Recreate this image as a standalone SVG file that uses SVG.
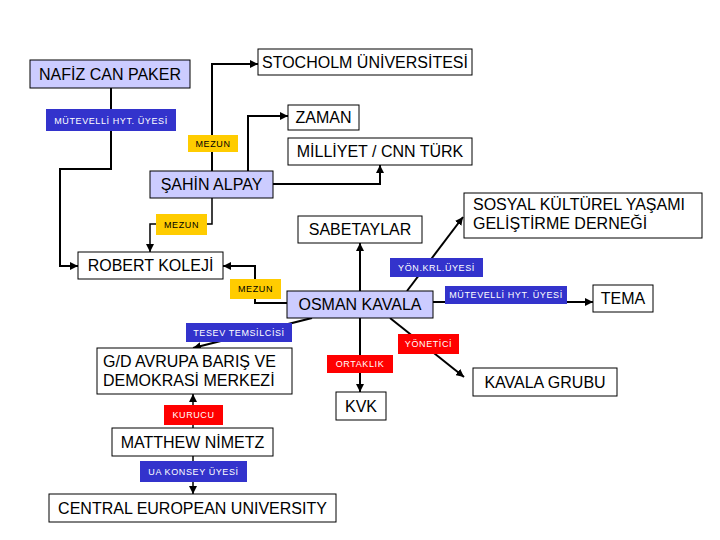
<svg xmlns="http://www.w3.org/2000/svg" width="720" height="540" viewBox="0 0 720 540">
<style>
.box{fill:#fff;stroke:#000;stroke-width:1}
.main{fill:#CCCCFF;stroke:#000;stroke-width:1}
.t{font-family:"Liberation Sans",Arial,sans-serif;font-size:16px;fill:#000}
.tc{text-anchor:middle}
.lb{font-family:"Liberation Sans",Arial,sans-serif;font-size:9px;letter-spacing:0.6px;text-anchor:middle;fill:#fff}
.lbk{fill:#000}
.blue{fill:#3333CC}
.yel{fill:#FFCC00}
.red{fill:#FF0000}
.e{fill:none;stroke:#000;stroke-width:2}
.e1{fill:none;stroke:#000;stroke-width:1.5}
</style>
<defs>
<marker id="ah" viewBox="0 0 10 10" refX="10" refY="5" markerWidth="8" markerHeight="8" markerUnits="userSpaceOnUse" orient="auto">
<path d="M0,0 L10,5 L0,10 z" fill="#000"/>
</marker>
</defs>
<rect width="720" height="540" fill="#fff"/>
<g id="connectors">
<polyline class="e" points="111,88 111,169 60,169 60,266 78,266" marker-end="url(#ah)"/>
<polyline class="e" points="212,171 212,64 258,64" marker-end="url(#ah)"/>
<polyline class="e" points="248,171 248,116 288,116" marker-end="url(#ah)"/>
<polyline class="e" points="273,184 380,184 380,165" marker-end="url(#ah)"/>
<polyline class="e1" points="212,198 212,224 150,224 150,252" marker-end="url(#ah)"/>
<polyline class="e" points="287,303 255,303 255,266 223,266" marker-end="url(#ah)"/>
<line class="e" x1="360" y1="291" x2="360" y2="243" marker-end="url(#ah)"/>
<line class="e" x1="407" y1="291" x2="463" y2="217" marker-end="url(#ah)"/>
<line class="e" x1="433" y1="302" x2="593" y2="302" marker-end="url(#ah)"/>
<line class="e" x1="390" y1="318" x2="464" y2="377" marker-end="url(#ah)"/>
<line class="e" x1="360" y1="318" x2="360" y2="392" marker-end="url(#ah)"/>
<line class="e" x1="312" y1="318" x2="193" y2="348" marker-end="url(#ah)"/>
<line class="e1" x1="193" y1="428" x2="193" y2="394" marker-end="url(#ah)"/>
<line class="e1" x1="193" y1="456" x2="193" y2="494" marker-end="url(#ah)"/>
</g>
<g id="labels">
<g id="lbl-mutevelli1"><rect class="blue" x="46" y="109" width="130" height="22"/><text class="lb" x="111" y="123.5">MÜTEVELLİ HYT. ÜYESİ</text></g>
<g id="lbl-mezun1"><rect class="yel" x="188" y="135" width="50" height="17"/><text class="lb lbk" x="213" y="147">MEZUN</text></g>
<g id="lbl-mezun2"><rect class="yel" x="156" y="214" width="51" height="21"/><text class="lb lbk" x="181.5" y="227.5">MEZUN</text></g>
<g id="lbl-yonkrl"><rect class="blue" x="390" y="258" width="93" height="19"/><text class="lb" x="436.5" y="270.5">YÖN.KRL.ÜYESİ</text></g>
<g id="lbl-mezun3"><rect class="yel" x="230" y="279" width="51" height="20"/><text class="lb lbk" x="255.5" y="292">MEZUN</text></g>
<g id="lbl-mutevelli2"><rect class="blue" x="445" y="286" width="122" height="18"/><text class="lb" x="506" y="298">MÜTEVELLİ HYT. ÜYESİ</text></g>
<g id="lbl-tesev"><rect class="blue" x="186" y="323" width="106" height="19"/><text class="lb" x="239" y="335.5">TESEV TEMSİLCİSİ</text></g>
<g id="lbl-yonetici"><rect class="red" x="398" y="334" width="61" height="20"/><text class="lb" x="428.5" y="347">YÖNETİCİ</text></g>
<g id="lbl-ortaklik"><rect class="red" x="327" y="355" width="66" height="18"/><text class="lb" x="360" y="367">ORTAKLIK</text></g>
<g id="lbl-kurucu"><rect class="red" x="164" y="405" width="59" height="20"/><text class="lb" x="193.5" y="418">KURUCU</text></g>
<g id="lbl-ua"><rect class="blue" x="140" y="461" width="107" height="21"/><text class="lb" x="193.5" y="474.5">UA KONSEY ÜYESİ</text></g>
</g>
<g id="n-nafiz"><rect class="main" x="30" y="60" width="160" height="28"/><text class="t tc" x="110" y="79.5">NAFİZ CAN PAKER</text></g>
<g id="n-stocholm"><rect class="box" x="258" y="49" width="214" height="26"/><text class="t tc" x="365" y="67.5">STOCHOLM ÜNİVERSİTESİ</text></g>
<g id="n-zaman"><rect class="box" x="288" y="105" width="71" height="25"/><text class="t tc" x="323.5" y="123">ZAMAN</text></g>
<g id="n-milliyet"><rect class="box" x="288" y="138" width="184" height="27"/><text class="t tc" x="380" y="157">MİLLİYET / CNN TÜRK</text></g>
<g id="n-sahin"><rect class="main" x="150" y="171" width="123" height="27"/><text class="t tc" x="211.5" y="190">ŞAHİN ALPAY</text></g>
<g id="n-sabetaylar"><rect class="box" x="298" y="216" width="124" height="27"/><text class="t tc" x="360" y="235">SABETAYLAR</text></g>
<g id="n-sosyal"><rect class="box" x="464" y="193" width="238" height="45"/><text class="t" x="473" y="210">SOSYAL KÜLTÜREL YAŞAMI</text><text class="t" x="473" y="229">GELİŞTİRME DERNEĞİ</text></g>
<g id="n-robert"><rect class="box" x="78" y="252" width="145" height="27"/><text class="t tc" x="150.5" y="271">ROBERT KOLEJİ</text></g>
<g id="n-osman"><rect class="main" x="287" y="291" width="146" height="27"/><text class="t tc" x="360" y="310">OSMAN KAVALA</text></g>
<g id="n-tema"><rect class="box" x="593" y="285" width="60" height="27"/><text class="t tc" x="623" y="304">TEMA</text></g>
<g id="n-gd"><rect class="box" x="97" y="348" width="195" height="46"/><text class="t" x="103" y="367">G/D AVRUPA BARIŞ VE</text><text class="t" x="103" y="386">DEMOKRASİ MERKEZİ</text></g>
<g id="n-kavala"><rect class="box" x="473" y="368" width="144" height="28"/><text class="t tc" x="545" y="387.5">KAVALA GRUBU</text></g>
<g id="n-kvk"><rect class="box" x="336" y="392" width="50" height="28"/><text class="t tc" x="361" y="411.5">KVK</text></g>
<g id="n-matthew"><rect class="box" x="112" y="428" width="161" height="28"/><text class="t tc" x="192.5" y="447.5">MATTHEW NİMETZ</text></g>
<g id="n-ceu"><rect class="box" x="49" y="494" width="287" height="28"/><text class="t tc" x="192.5" y="513.5">CENTRAL EUROPEAN UNIVERSITY</text></g>
</svg>
